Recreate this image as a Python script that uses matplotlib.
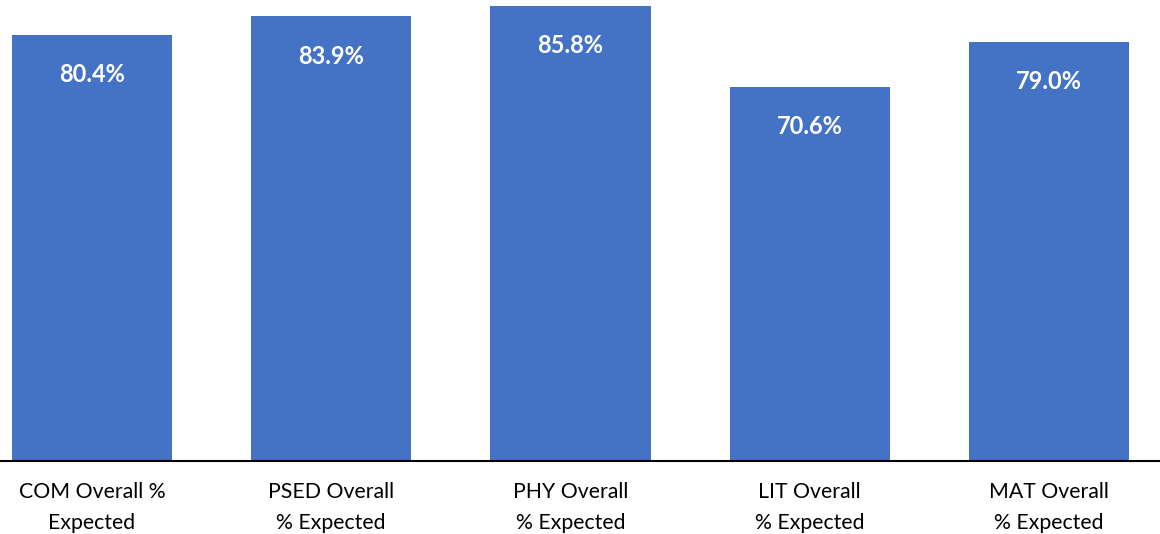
import matplotlib
matplotlib.use("Agg")
import matplotlib.pyplot as plt
import numpy as np

categories = ["COM Overall %\nExpected", "PSED Overall\n% Expected", "PHY Overall\n% Expected",
              "LIT Overall\n% Expected", "MAT Overall\n% Expected"]
values = [80.4, 83.9, 85.8, 70.6, 79.0]

plt.rcParams["font.family"] = ["Lato", "DejaVu Sans"]

fig = plt.figure(figsize=(11.6, 5.34), dpi=100)
ax = fig.add_axes([0, 73 / 534, 1, 461 / 534])

x = np.arange(len(values))
ax.bar(x, values, width=0.67, color="#4472C4")

for xi, v in zip(x, values):
    ax.annotate(f"{v:.1f}%", (xi, v), xytext=(0, -28.5), textcoords="offset points",
                ha="center", va="center", color="white", fontsize=17, fontweight="bold")

ax.set_xlim(-92 / 239.25, (1160 - 92) / 239.25)
ax.set_ylim(0, 87)
ax.set_xticks(x)
ax.set_xticklabels(categories, fontsize=15.3, linespacing=1.7)
ax.tick_params(axis="x", length=0, pad=15)
ax.set_yticks([])
for s in ["top", "left", "right"]:
    ax.spines[s].set_visible(False)
ax.spines["bottom"].set_linewidth(1.5)

fig.savefig("out.png", dpi=100)
